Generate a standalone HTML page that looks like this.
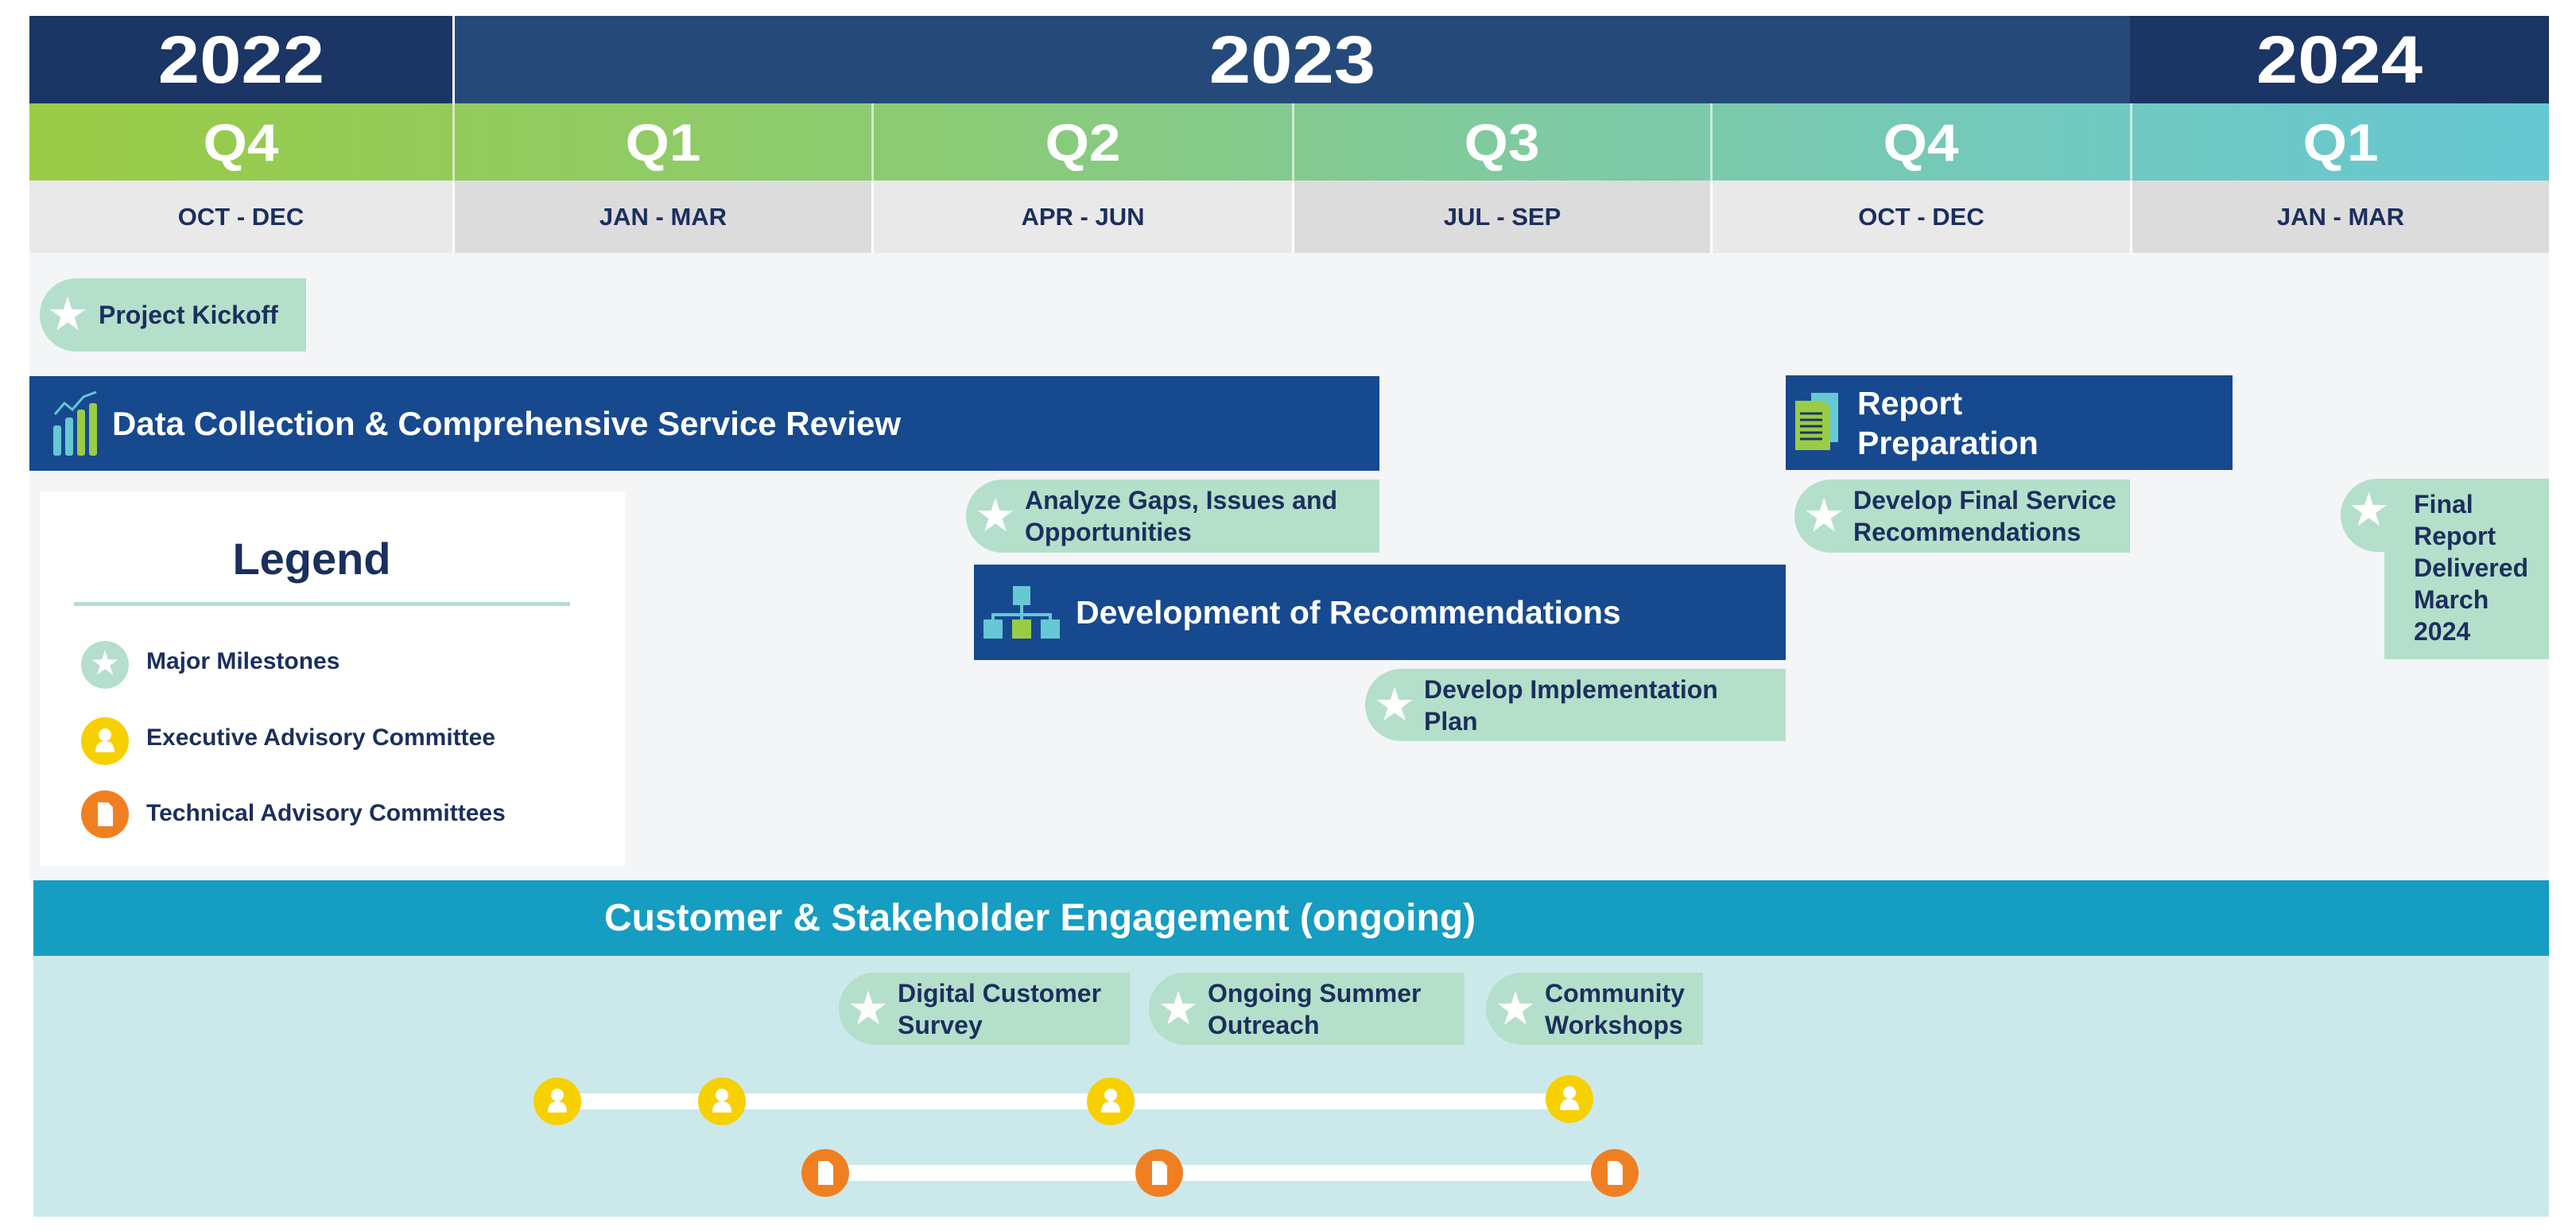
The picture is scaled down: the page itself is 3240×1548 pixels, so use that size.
<!DOCTYPE html>
<html><head><meta charset="utf-8"><style>
*{margin:0;padding:0;box-sizing:border-box}
body{width:3240px;height:1548px;background:#fff;position:relative;overflow:hidden;font-family:"Liberation Sans",Arial,sans-serif;font-weight:bold}
.a{position:absolute}
.yr{color:#fff;font-size:84px;display:flex;align-items:center;justify-content:center}
.yr span{display:inline-block;transform:scaleX(1.12)}
.q{color:#fff;font-size:66px;display:flex;align-items:center;justify-content:center;top:130px;height:97px;border-left:3px solid rgba(255,255,255,.6)}
.q span{display:inline-block;transform:scaleX(1.08)}
.m{color:#1b2f5e;font-size:31px;display:flex;align-items:center;justify-content:center;top:227px;height:91px;border-left:3px solid #fff}
.bar{background:#17498f;color:#fff;display:flex;align-items:center}
.ms{background:#b4dfca;color:#1b2f5e;font-size:32px;line-height:40px;border-radius:46px 0 0 46px;display:flex;align-items:center}
.st{color:#fff;font-size:52px;width:58px;text-align:center;margin-left:8px;margin-right:8px;flex:none}
.circ{width:60px;height:60px;border-radius:50%}
.lg{color:#1b2f5e;font-size:30px}
</style></head><body>
<div class="a yr" style="left:37px;top:20px;width:532px;height:110px;background:#1b3564"><span>2022</span></div>
<div class="a yr" style="left:569px;top:20px;width:2110px;height:110px;background:#254a7a;border-left:3px solid #fff"><span>2023</span></div>
<div class="a yr" style="left:2679px;top:20px;width:527px;height:110px;background:#1b3564"><span>2024</span></div>
<div class="a" style="left:37px;top:130px;width:3169px;height:97px;background:linear-gradient(90deg,#9acb45,#8ccb72 35%,#7fcaa2 60%,#72c9bd 80%,#66c8d3)"></div>
<div class="a q" style="left:37px;width:532px;border-left:none"><span>Q4</span></div>
<div class="a q" style="left:569px;width:527px"><span>Q1</span></div>
<div class="a q" style="left:1096px;width:529px"><span>Q2</span></div>
<div class="a q" style="left:1625px;width:526px"><span>Q3</span></div>
<div class="a q" style="left:2151px;width:528px"><span>Q4</span></div>
<div class="a q" style="left:2679px;width:527px"><span>Q1</span></div>
<div class="a m" style="left:37px;width:532px;background:#e9e9e9;border-left:none">OCT - DEC</div>
<div class="a m" style="left:569px;width:527px;background:#dcdcdc">JAN - MAR</div>
<div class="a m" style="left:1096px;width:529px;background:#e9e9e9">APR - JUN</div>
<div class="a m" style="left:1625px;width:526px;background:#dcdcdc">JUL - SEP</div>
<div class="a m" style="left:2151px;width:528px;background:#e9e9e9">OCT - DEC</div>
<div class="a m" style="left:2679px;width:527px;background:#dcdcdc">JAN - MAR</div>
<div class="a" style="left:37px;top:318px;width:3169px;height:789px;background:#f4f5f7"></div>

<div class="a ms" style="left:50px;top:350px;width:335px;height:92px;font-size:32px"><span class="st" style="margin-left:6px;margin-right:10px">★</span>Project Kickoff</div>

<div class="a bar" style="left:37px;top:473px;width:1698px;height:119px;font-size:42px">
<svg width="70" height="84" viewBox="0 0 70 84" style="margin-left:28px;margin-right:6px"><rect x="2" y="44" width="10" height="38" rx="3" fill="#66c8d3"/><rect x="17" y="34" width="10" height="48" rx="3" fill="#66c8d3"/><rect x="32" y="24" width="10" height="58" rx="3" fill="#9acb45"/><rect x="47" y="16" width="10" height="66" rx="3" fill="#9acb45"/><polyline points="4,30 16,16 26,24 40,8 56,2" fill="none" stroke="#66c8d3" stroke-width="3"/></svg>
Data Collection &amp; Comprehensive Service Review</div>

<div class="a ms" style="left:1215px;top:603px;width:520px;height:92px"><span class="st">★</span>Analyze Gaps, Issues and<br>Opportunities</div>

<div class="a bar" style="left:1225px;top:710px;width:1021px;height:120px;font-size:41px">
<svg width="96" height="66" viewBox="0 0 96 66" style="margin-left:12px;margin-right:20px"><rect x="37" y="0" width="22" height="24" fill="#66c8d3"/><path d="M48 24V36M12 46V36H84V46M48 36V46" stroke="#66c8d3" stroke-width="4" fill="none"/><rect x="0" y="42" width="24" height="24" fill="#66c8d3"/><rect x="36" y="42" width="24" height="24" fill="#9acb45"/><rect x="72" y="42" width="24" height="24" fill="#66c8d3"/></svg>
Development of Recommendations</div>

<div class="a ms" style="left:1717px;top:841px;width:529px;height:91px"><span class="st">★</span>Develop Implementation<br>Plan</div>

<div class="a bar" style="left:2246px;top:472px;width:562px;height:119px;font-size:41px;line-height:50px">
<svg width="60" height="80" viewBox="0 0 60 80" style="margin-left:12px;margin-right:18px"><rect x="20" y="2" width="34" height="62" fill="#66c8d3"/><path d="M0 12H36L44 20V74H0Z" fill="#9acb45"/><g stroke="#1b3564" stroke-width="3"><path d="M6 28H34M6 36H34M6 44H34M6 52H34M6 60H34"/></g></svg>
<div>Report<br>Preparation</div></div>

<div class="a ms" style="left:2257px;top:603px;width:422px;height:92px"><span class="st">★</span>Develop Final Service<br>Recommendations</div>

<div class="a" style="left:2944px;top:602px;width:262px;height:92px;background:#b4dfca;border-radius:46px 0 0 46px"></div>
<div class="a" style="left:2999px;top:602px;width:207px;height:227px;background:#b4dfca"></div>
<div class="a" style="left:2956px;top:612px;color:#fff;font-size:52px">★</div>
<div class="a" style="left:3036px;top:614px;color:#1b2f5e;font-size:32px;line-height:40px">Final<br>Report<br>Delivered<br>March<br>2024</div>

<div class="a" style="left:50px;top:618px;width:736px;height:471px;background:#fff"></div>
<div class="a" style="left:50px;top:670px;width:684px;text-align:center;color:#1b2f5e;font-size:56px">Legend</div>
<div class="a" style="left:93px;top:757px;width:624px;height:5px;background:#b4dfca"></div>
<div class="a circ" style="left:102px;top:806px;background:#b4dfca;color:#fff;font-size:38px;text-align:center;line-height:58px">★</div>
<div class="a lg" style="left:184px;top:815px">Major Milestones</div>
<div class="a circ" style="left:102px;top:902px;background:#f7d000"><svg width="60" height="60"><circle cx="30" cy="22" r="8" fill="#fff"/><path d="M18 44Q18 30 30 30Q42 30 42 44Z" fill="#fff"/></svg></div>
<div class="a lg" style="left:184px;top:911px">Executive Advisory Committee</div>
<div class="a circ" style="left:102px;top:994px;background:#f07f22"><svg width="60" height="60"><path d="M21 15H34L40 21V45H21Z" fill="#fff"/></svg></div>
<div class="a lg" style="left:184px;top:1006px">Technical Advisory Committees</div>

<div class="a" style="left:42px;top:1107px;width:3164px;height:95px;background:#159dc2;color:#fff;font-size:48px;line-height:95px;padding-left:718px">Customer &amp; Stakeholder Engagement (ongoing)</div>
<div class="a" style="left:42px;top:1202px;width:3164px;height:328px;background:#cbe9ea"></div>

<div class="a ms" style="left:1055px;top:1223px;width:366px;height:91px"><span class="st">★</span>Digital Customer<br>Survey</div>
<div class="a ms" style="left:1445px;top:1223px;width:397px;height:91px"><span class="st">★</span>Ongoing Summer<br>Outreach</div>
<div class="a ms" style="left:1869px;top:1223px;width:273px;height:91px"><span class="st">★</span>Community<br>Workshops</div>

<div class="a" style="left:701px;top:1375px;width:1273px;height:20px;background:#fff"></div>
<div class="a" style="left:1038px;top:1465px;width:993px;height:20px;background:#fff"></div>

<svg class="a" style="left:0;top:0" width="3240" height="1548">
<defs>
<g id="y"><circle r="30" fill="#f7d000"/><circle cy="-8" r="8" fill="#fff"/><path d="M-12 14Q-12 0 0 0Q12 0 12 14Z" fill="#fff"/></g>
<g id="o"><circle r="30" fill="#f07f22"/><path d="M-9 -15H4L10 -9V15H-9Z" fill="#fff"/></g>
</defs>
<use href="#y" x="701" y="1385"/><use href="#y" x="908" y="1385"/><use href="#y" x="1397" y="1385"/><use href="#y" x="1974" y="1382"/>
<use href="#o" x="1038" y="1475"/><use href="#o" x="1458" y="1475"/><use href="#o" x="2031" y="1475"/>
</svg>
</body></html>
